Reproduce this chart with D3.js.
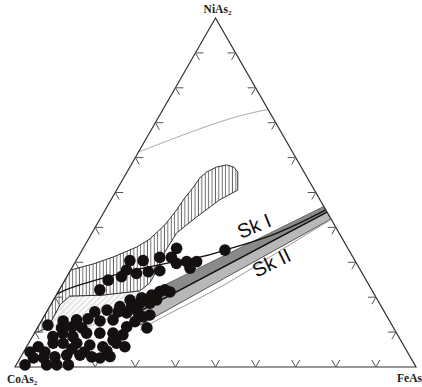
<!DOCTYPE html>
<html>
<head>
<meta charset="utf-8">
<script src="https://cdn.jsdelivr.net/npm/d3@7/dist/d3.min.js"></script>
<style>
  body { margin: 0; background: #fff; }
</style>
</head>
<body>
<div id="chart"></div>
<script>
// every pair is [NiAs2 %, FeAs %]; CoAs2 is what is left
const corners = [[100, 0], [0, 0], [0, 100]];
const tickValues = [10, 20, 30, 40, 50, 60, 70, 80, 90];

// Sk I analyses (upper group, inside the hatched field)
const upperPoints = [
  [33.5, 35.6], [34.0, 23.3], [31.4, 20.4], [30.5, 16.7], [30.5, 13.4], [31.4, 23.3],
  [30.2, 27.7], [30.2, 30.2], [28.3, 29.5], [29.7, 25.4], [27.6, 22.3], [27.3, 19.6],
  [26.8, 16.9], [27.8, 13.9], [25.9, 13.6], [24.9, 10.8], [22.1, 10.1]
];

// Sk II analyses (lower cluster near CoAs2)
const lowerPoints = [
  [0.6, 2.2], [0.6, 7.6], [0.6, 10.1], [0.6, 13.0], [2.6, 3.3], [2.6, 5.8], [2.9, 8.5],
  [3.4, 11.2], [3.4, 14.5], [2.9, 17.7], [2.6, 19.9], [3.0, 22.2], [5.8, 2.9], [6.8, 6.1],
  [6.8, 8.6], [6.8, 12.0], [6.3, 15.5], [5.8, 19.0], [6.8, 21.9], [5.8, 24.5], [8.7, 5.1],
  [9.7, 7.1], [8.7, 10.1], [9.7, 13.0], [9.7, 16.3], [9.7, 19.6], [7.7, 20.6], [9.2, 22.3],
  [11.2, 6.0], [13.2, 5.4], [13.5, 8.6], [13.8, 11.3], [13.2, 14.6], [13.5, 17.7],
  [15.5, 20.1], [17.3, 17.5], [17.3, 20.4], [15.8, 17.8], [11.5, 22.1], [13.0, 23.4],
  [14.4, 24.7], [14.9, 26.2], [11.2, 27.3], [18.3, 22.0], [18.3, 24.5], [19.8, 21.7],
  [20.6, 23.8], [19.2, 25.7], [21.6, 25.3], [22.1, 26.3], [21.5, 27.9],
  [4.3, 1.6], [4.3, 5.3], [5.2, 11.6], [4.3, 15.1], [4.6, 20.6], [15.8, 22.7],
  [16.3, 14.8], [15.8, 12.0], [11.2, 11.1], [11.5, 8.5], [12.0, 2.2], [19.2, 19.1]
];

// vertically hatched field
const hatchField = [
  [51.3, 18.7], [54.2, 19.0], [55.9, 19.9], [57.3, 21.6], [57.9, 23.8], [57.3, 25.9],
  [55.9, 27.6], [50.7, 30.2], [47.9, 27.1], [43.0, 23.8], [38.4, 21.1], [33.0, 20.9],
  [27.8, 21.5], [24.1, 21.6], [21.8, 20.2], [20.6, 11.6], [20.3, 3.5], [17.8, 2.3],
  [11.2, 2.6], [9.7, 0], [27.8, 0], [29.5, 4.7], [31.5, 8.7], [34.4, 13.2], [36.7, 15.3],
  [40.7, 17.0], [45.0, 17.8], [48.4, 18.1]
];

// light diagonal hatched field under it
const diagField = [
  [11.2, 2.6], [17.8, 2.3], [20.3, 3.5], [20.6, 11.6], [21.8, 20.2], [15.8, 19.5],
  [11.7, 12.8], [8.3, 5.8]
];

// grey band of Sk I
const bandUpper = [[18.6, 19.4], [46.0, 54.0]];
const bandMiddle = [[15.2, 22.3], [44.4, 55.6]];
const bandLower = [[12.0, 25.2], [42.4, 57.6]];

// trend lines
const skILine = [[20.9, 0], [23.5, 4.4], [28.1, 17.1], [31.5, 30.3], [33.5, 35.6], [38.1, 45.7], [45.0, 55.0]];
const skIILine = [[10.6, 25.9], [14.3, 29.7], [22.9, 39.7], [31.5, 47.8], [42.1, 57.5]];
const topLine = [[61.6, 0], [70.2, 15.9], [73.8, 26.2]];

// where the field names sit
const skILabel = [40.4, 39.4];
const skIILabel = [29.9, 49.0];

const W = 422, H = 387;
const svg = d3.select('#chart').append('svg')
  .attr('width', W)
  .attr('height', H)
  .style('font-family', 'Arial, "Liberation Sans", sans-serif');

const xs = d3.scaleLinear().domain([0, 100]).range([15, 416]);
const ys = d3.scaleLinear().domain([0, 100]).range([367, 18]);
const px = d => xs(d[1] + d[0] / 2);
const py = d => ys(d[0]);
const line = d3.line().x(px).y(py);
const curve = d3.line().x(px).y(py).curve(d3.curveNatural);

const defs = svg.append('defs');
defs.append('pattern')
  .attr('id', 'vhatch')
  .attr('patternUnits', 'userSpaceOnUse')
  .attr('width', 3.4).attr('height', 10)
  .append('line')
  .attr('x1', 1.2).attr('x2', 1.2).attr('y1', 0).attr('y2', 10)
  .attr('stroke', '#3a3a3a').attr('stroke-width', 0.8);
defs.append('pattern')
  .attr('id', 'dhatch')
  .attr('patternUnits', 'userSpaceOnUse')
  .attr('width', 4).attr('height', 4)
  .attr('patternTransform', 'rotate(45)')
  .append('line')
  .attr('x1', 1).attr('x2', 1).attr('y1', 0).attr('y2', 4)
  .attr('stroke', '#bbb').attr('stroke-width', 0.8);

// fields
svg.append('path')
  .attr('d', line(diagField) + 'Z')
  .attr('fill', 'url(#dhatch)')
  .attr('stroke', '#aaa')
  .attr('stroke-width', 0.7);

svg.append('path')
  .attr('d', line(hatchField) + 'Z')
  .attr('fill', 'url(#vhatch)')
  .attr('stroke', '#333')
  .attr('stroke-width', 1);

// grey band
svg.append('path')
  .attr('d', line(bandUpper.concat(bandMiddle.slice().reverse())) + 'Z')
  .attr('fill', '#8a8a8a')
  .attr('stroke', '#555')
  .attr('stroke-width', 0.8);
svg.append('path')
  .attr('d', line(bandMiddle.concat(bandLower.slice().reverse())) + 'Z')
  .attr('fill', '#b8b8b8')
  .attr('stroke', '#444')
  .attr('stroke-width', 0.9);
svg.append('path')
  .attr('d', line(bandMiddle))
  .attr('fill', 'none')
  .attr('stroke', '#111')
  .attr('stroke-width', 1.4);

// trend lines
svg.append('path')
  .attr('d', curve(topLine))
  .attr('fill', 'none')
  .attr('stroke', '#aaa')
  .attr('stroke-width', 1);
svg.append('path')
  .attr('d', curve(skIILine))
  .attr('fill', 'none')
  .attr('stroke', '#999')
  .attr('stroke-width', 1);
svg.append('path')
  .attr('d', curve(skILine))
  .attr('fill', 'none')
  .attr('stroke', '#111')
  .attr('stroke-width', 1.3);

// triangle frame
svg.append('path')
  .attr('d', line(corners) + 'Z')
  .attr('fill', 'none')
  .attr('stroke', '#333')
  .attr('stroke-width', 1.2);

// chevron ticks, arms along the two inner grid directions
const d = 2;
const ticks = [];
tickValues.forEach(t => {
  ticks.push([[d, t], [0, t], [d, t - d]]);            // base
  ticks.push([[t, d], [t, 0], [t - d, d]]);            // left side
  ticks.push([[t, 100 - t - d], [t, 100 - t], [t - d, 100 - t]]); // right side
});
svg.append('g').selectAll('path')
  .data(ticks)
  .join('path')
  .attr('d', t => line(t))
  .attr('fill', 'none')
  .attr('stroke', '#555')
  .attr('stroke-width', 1);

// analyses
svg.append('g').selectAll('circle')
  .data(lowerPoints.concat(upperPoints))
  .join('circle')
  .attr('cx', px)
  .attr('cy', py)
  .attr('r', 5.8)
  .attr('fill', '#141010');

// field labels
svg.append('text')
  .attr('transform', `translate(${px(skILabel)},${py(skILabel)}) rotate(-22)`)
  .attr('text-anchor', 'middle')
  .attr('dy', '0.35em')
  .style('font-size', '20px')
  .attr('fill', '#111')
  .text('Sk I');
svg.append('text')
  .attr('transform', `translate(${px(skIILabel)},${py(skIILabel)}) rotate(-26)`)
  .attr('text-anchor', 'middle')
  .attr('dy', '0.35em')
  .style('font-size', '20px')
  .attr('fill', '#111')
  .text('Sk II');

// corner labels
function cornerLabel(x, y, anchor, name, sub) {
  const t = svg.append('text')
    .attr('x', x).attr('y', y)
    .attr('text-anchor', anchor)
    .style('font-family', '"Liberation Serif", "Times New Roman", serif')
    .style('font-weight', 'bold')
    .style('font-size', '11.5px')
    .attr('fill', '#222');
  t.append('tspan').text(name);
  if (sub) t.append('tspan').attr('dy', 2).style('font-size', '7px').text(sub);
}
cornerLabel(px(corners[0]) + 2, py(corners[0]) - 5, 'middle', 'NiAs', '2');
cornerLabel(px(corners[1]) - 8, py(corners[1]) + 16, 'start', 'CoAs', '2');
cornerLabel(px(corners[2]) + 6, py(corners[2]) + 15, 'end', 'FeAs', null);
</script>
</body>
</html>
